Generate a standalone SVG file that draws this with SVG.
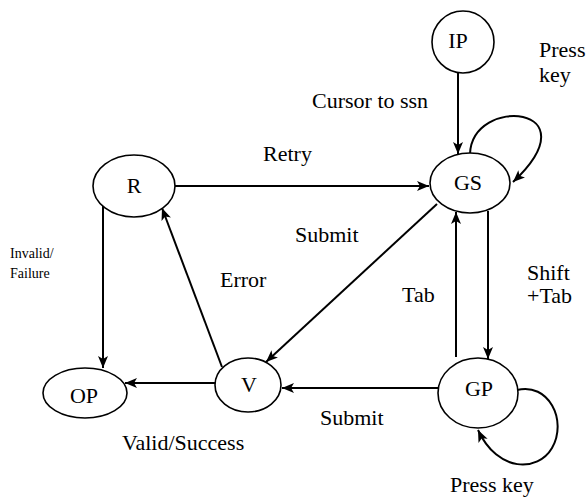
<svg xmlns="http://www.w3.org/2000/svg" width="587" height="500" viewBox="0 0 587 500">
<style>
.node ellipse{fill:#fff;stroke:#000;stroke-width:1.6}
.node text{font-family:"Liberation Serif","Times New Roman",serif;font-size:22px;text-anchor:middle;fill:#000}
.lbl{font-family:"Liberation Serif","Times New Roman",serif;font-size:22px;fill:#000}
.small{font-size:14px}
.edge{fill:none;stroke:#000;stroke-width:2;marker-end:url(#ah)}
</style>
<defs>
<marker id="ah" markerUnits="userSpaceOnUse" markerWidth="14" markerHeight="12" refX="12" refY="5" orient="auto">
<path d="M0,0 L12,5 L0,10 L3,5 z" fill="#000"/>
</marker>
</defs>
<rect width="587" height="500" fill="#fff"/>
<g id="connectors">
<path class="edge" d="M458,73 L458,154"/>
<path class="edge" d="M470,154 C472,95 595,105 513,182"/>
<path class="edge" d="M175,186 L429,186"/>
<path class="edge" d="M437,204 L266,362"/>
<path class="edge" d="M222,367 L162,208"/>
<path class="edge" d="M103,206 L103,368"/>
<path class="edge" d="M222,383 L125,383"/>
<path class="edge" d="M438,388 L282,388"/>
<path class="edge" d="M456,357 L456,212"/>
<path class="edge" d="M488,211 L488,359"/>
<path class="edge" d="M517,390 C548,382 568,420 552,448 C538,472 498,473 478,430"/>
</g>
<g id="IP" class="node"><ellipse cx="463" cy="42" rx="31" ry="31"/><text x="458" y="48">IP</text></g>
<g id="GS" class="node"><ellipse cx="470" cy="183" rx="40" ry="30"/><text x="468" y="190">GS</text></g>
<g id="R" class="node"><ellipse cx="134" cy="186" rx="41" ry="31"/><text x="134" y="193">R</text></g>
<g id="OP" class="node"><ellipse cx="85" cy="393" rx="42" ry="25"/><text x="84" y="403">OP</text></g>
<g id="V" class="node"><ellipse cx="248" cy="385" rx="33" ry="27"/><text x="249" y="392">V</text></g>
<g id="GP" class="node"><ellipse cx="478" cy="393" rx="40" ry="35"/><text x="479" y="396">GP</text></g>
<g id="labels">
<text class="lbl" x="539" y="57">Press</text>
<text class="lbl" x="539" y="82">key</text>
<text class="lbl" x="312" y="108">Cursor to ssn</text>
<text class="lbl" x="263" y="161">Retry</text>
<text class="lbl" x="295" y="242">Submit</text>
<text class="lbl" x="220" y="287">Error</text>
<text class="lbl" x="402" y="302">Tab</text>
<text class="lbl" x="527" y="280">Shift</text>
<text class="lbl" x="527" y="303">+Tab</text>
<text class="lbl" x="320" y="425">Submit</text>
<text class="lbl" x="122" y="450">Valid/Success</text>
<text class="lbl" x="450" y="492">Press key</text>
<text class="lbl small" x="10" y="258">Invalid/</text>
<text class="lbl small" x="10" y="278">Failure</text>
</g>
</svg>
